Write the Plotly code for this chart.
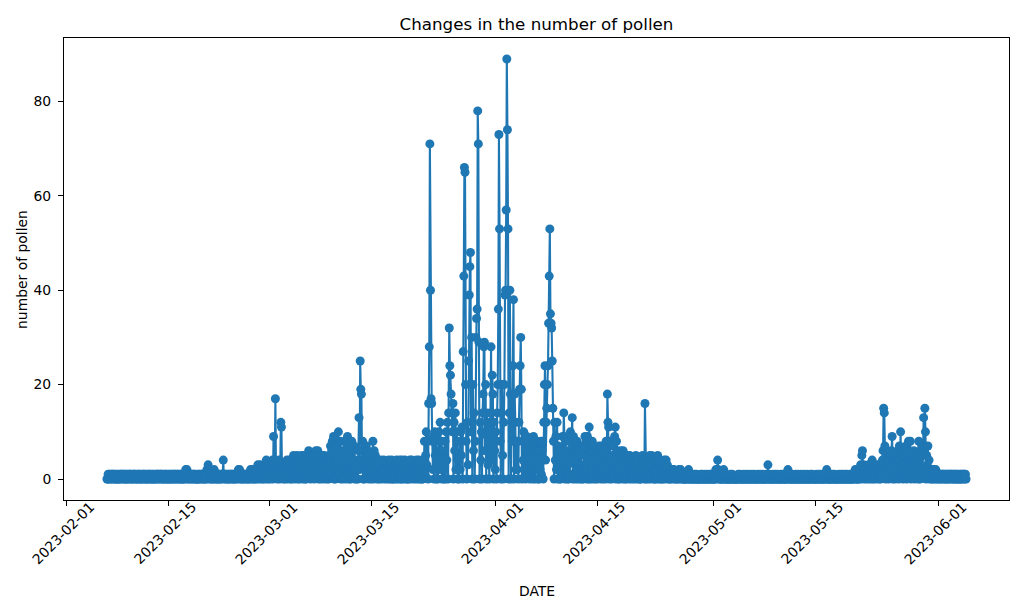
### Importing packages

import numpy as np
import pandas as pd
import plotly.graph_objs as go

### Pollen counts, one reading every 2 hours (00, 02, ... 22 h)
### one row per day

feb_start = "2023-02-06 14:00"
feb_counts = [
    0, 0, 1, 0, 1,                          # 02-06 (from 14h)
    0, 1, 0, 1, 0, 1, 1, 0, 1, 0, 0, 1,     # 02-07
    0, 1, 0, 0, 1, 0, 1, 1, 0, 1, 0, 1,     # 02-08
    1, 0, 0, 1, 0, 1, 0, 1, 0, 1, 1, 0,     # 02-09
    0, 1, 0, 1, 1, 0, 1, 0, 1, 0, 0, 1,     # 02-10
    1, 0, 1, 0, 0, 1, 0, 1, 1, 0, 1, 0,     # 02-11
    0, 1, 0, 1, 0, 1, 1, 0, 0, 1, 0, 1,     # 02-12
    0, 0, 1, 0, 1, 0, 1, 1, 0, 1, 0, 1,     # 02-13
    1, 0, 1, 0, 1, 0, 0, 1, 1, 0, 1, 0,     # 02-14
    0, 1, 0, 1, 0, 1, 0, 1, 0, 1, 0, 1,     # 02-15
    1, 0, 0, 1, 1, 0, 1, 0, 1, 0, 1, 0,     # 02-16
    0, 1, 0, 1, 0, 2, 1, 2, 0, 1, 0, 1,     # 02-17
    1, 0, 1, 0, 1, 0, 1, 1, 0, 1, 0, 0,     # 02-18
    0, 1, 0, 1, 0, 1, 0, 1, 1, 0, 1, 0,     # 02-19
    0, 1, 0, 1, 2, 0, 3, 1, 2, 0, 1, 0,     # 02-20
    1, 0, 1, 0, 2, 1, 0, 1, 0, 1, 0, 1,     # 02-21
    0, 1, 0, 1, 0, 1, 1, 4, 0, 1, 1, 0,     # 02-22
    1, 0, 1, 0, 1, 0, 1, 0, 1, 1, 0, 1,     # 02-23
    0, 1, 0, 1, 0, 1, 1, 0, 2, 1, 2, 0,     # 02-24
    1, 0, 1, 0, 1, 0, 1, 1, 0, 1, 0, 1,     # 02-25
    0, 1, 0, 1, 2, 0, 1, 2, 0, 1, 0, 1,     # 02-26
    0, 2, 1, 0, 3, 1, 2, 0, 3, 1, 2, 0,     # 02-27
    1, 0, 2, 3, 1, 0, 4, 2, 3, 0, 1, 3,     # 02-28
]

mar_start = "2023-03-01"
mar_counts = [
    0, 2, 3, 1, 4, 0, 9, 2, 3, 17, 1, 3,        # 03-01
    0, 3, 1, 4, 0, 2, 12, 11, 1, 3, 0, 2,       # 03-02
    1, 0, 3, 2, 4, 0, 3, 1, 4, 2, 0, 3,         # 03-03
    0, 3, 1, 5, 2, 0, 4, 3, 1, 5, 0, 2,         # 03-04
    2, 0, 4, 1, 5, 3, 0, 5, 2, 4, 0, 3,         # 03-05
    0, 3, 5, 1, 6, 2, 4, 0, 5, 3, 1, 4,         # 03-06
    2, 0, 5, 3, 6, 1, 4, 6, 0, 5, 2, 3,         # 03-07
    0, 4, 1, 5, 2, 0, 5, 3, 1, 4, 0, 3,         # 03-08
    2, 0, 5, 3, 7, 1, 6, 8, 2, 9, 0, 5,         # 03-09
    0, 4, 2, 7, 3, 10, 1, 6, 8, 0, 5, 2,        # 03-10
    3, 0, 6, 2, 8, 4, 0, 7, 9, 1, 5, 0,         # 03-11
    2, 0, 5, 8, 1, 6, 3, 7, 0, 4, 2, 0,         # 03-12
    3, 0, 6, 13, 2, 25, 19, 18, 4, 8, 0, 3,     # 03-13
    0, 5, 2, 7, 1, 6, 3, 0, 5, 2, 4, 0,         # 03-14
    1, 3, 8, 0, 6, 2, 5, 1, 4, 0, 3, 1,         # 03-15
    0, 3, 1, 4, 0, 2, 3, 1, 4, 0, 2, 1,         # 03-16
    2, 0, 3, 1, 4, 0, 3, 2, 0, 4, 1, 0,         # 03-17
    0, 3, 1, 3, 0, 4, 2, 0, 3, 1, 4, 0,         # 03-18
    1, 0, 4, 2, 0, 3, 1, 4, 0, 3, 2, 0,         # 03-19
    0, 3, 1, 4, 0, 2, 4, 1, 3, 0, 2, 1,         # 03-20
    2, 0, 4, 1, 3, 0, 4, 2, 0, 3, 1, 0,         # 03-21
    0, 4, 2, 8, 1, 5, 10, 3, 8, 0, 16, 28,      # 03-22
    71, 40, 17, 16, 8, 2, 9, 0, 10, 5, 8, 0,    # 03-23
    3, 0, 6, 10, 2, 12, 4, 8, 0, 6, 3, 0,       # 03-24
    2, 8, 0, 10, 4, 12, 0, 14, 32, 24, 22, 18,  # 03-25
    14, 10, 16, 0, 12, 6, 14, 2, 10, 8, 0, 4,   # 03-26
    0, 8, 2, 10, 5, 11, 0, 27, 43, 66, 65, 20,  # 03-27
    8, 0, 12, 3, 25, 39, 45, 48, 10, 30, 0, 20, # 03-28
    6, 14, 0, 8, 30, 34, 36, 78, 71, 29, 0, 12, # 03-29
    4, 10, 0, 14, 18, 28, 29, 6, 20, 0, 14, 9,  # 03-30
    3, 12, 0, 8, 14, 28, 4, 22, 18, 0, 12, 6,   # 03-31
]

apr_start = "2023-04-01"
apr_counts = [
    2, 10, 0, 14, 20, 36, 73, 53, 8, 0, 14, 20,    # 04-01
    5, 0, 12, 20, 39, 40, 57, 89, 74, 53, 0, 14,   # 04-02
    40, 18, 0, 14, 8, 24, 38, 0, 18, 12, 2, 8,     # 04-03
    2, 8, 0, 12, 19, 24, 30, 19, 0, 8, 4, 10,      # 04-04
    2, 8, 0, 6, 9, 1, 8, 4, 7, 0, 6, 3,            # 04-05
    1, 6, 0, 9, 3, 8, 0, 7, 8, 2, 6, 0,            # 04-06
    0, 6, 2, 8, 1, 6, 8, 0, 12, 20, 24, 4,         # 04-07
    12, 15, 20, 24, 33, 43, 53, 35, 33, 32, 25, 15,  # 04-08
    8, 0, 12, 4, 9, 2, 12, 0, 7, 5, 0, 3,          # 04-09
    0, 6, 1, 9, 3, 14, 9, 0, 8, 2, 6, 0,           # 04-10
    3, 0, 8, 1, 10, 5, 9, 13, 0, 9, 4, 1,          # 04-11
    0, 6, 2, 8, 0, 7, 3, 6, 0, 5, 2, 0,            # 04-12
    2, 0, 7, 3, 9, 1, 8, 0, 9, 5, 0, 11,           # 04-13
    4, 0, 6, 2, 8, 0, 7, 3, 6, 0, 4, 1,            # 04-14
    0, 5, 1, 7, 2, 6, 0, 7, 3, 5, 0, 2,            # 04-15
    1, 6, 0, 8, 3, 18, 12, 11, 0, 8, 4, 2,         # 04-16
    0, 5, 1, 7, 3, 9, 11, 0, 8, 2, 6, 0,           # 04-17
    2, 0, 5, 1, 6, 3, 0, 6, 2, 5, 0, 3,            # 04-18
    0, 4, 1, 5, 2, 0, 5, 3, 4, 0, 2, 1,            # 04-19
    1, 0, 4, 2, 5, 0, 4, 1, 3, 0, 2, 0,            # 04-20
    0, 3, 1, 5, 2, 4, 0, 16, 3, 0, 2, 1,           # 04-21
    0, 4, 1, 5, 0, 3, 5, 1, 4, 0, 2, 0,            # 04-22
    2, 0, 4, 1, 5, 0, 3, 4, 0, 2, 1, 0,            # 04-23
    0, 3, 1, 4, 0, 2, 4, 1, 3, 0, 1, 0,            # 04-24
    1, 0, 2, 1, 0, 2, 1, 2, 0, 1, 0, 1,            # 04-25
    0, 1, 0, 2, 1, 0, 2, 1, 0, 1, 0, 0,            # 04-26
    0, 0, 1, 0, 0, 1, 0, 2, 0, 0, 1, 0,            # 04-27
    0, 1, 0, 0, 0, 1, 0, 0, 1, 0, 0, 0,            # 04-28
    0, 0, 0, 1, 0, 0, 1, 0, 0, 0, 1, 0,            # 04-29
    0, 0, 1, 0, 0, 0, 1, 0, 1, 0, 0, 0,            # 04-30
]

may_start = "2023-05-01"
may_counts = [
    0, 0, 1, 0, 2, 0, 1, 4, 2, 0, 1, 0,       # 05-01
    0, 0, 1, 0, 0, 2, 0, 1, 0, 0, 0, 0,       # 05-02
    0, 0, 0, 0, 1, 0, 0, 1, 0, 0, 0, 0,       # 05-03
    0, 0, 0, 0, 0, 1, 0, 0, 1, 0, 0, 0,       # 05-04
    0, 0, 1, 0, 0, 0, 1, 0, 0, 0, 1, 0,       # 05-05
    0, 0, 0, 1, 0, 0, 0, 1, 0, 0, 0, 0,       # 05-06
    0, 1, 0, 0, 0, 1, 0, 0, 0, 1, 0, 0,       # 05-07
    0, 0, 0, 1, 0, 0, 3, 0, 1, 0, 0, 0,       # 05-08
    0, 0, 1, 0, 0, 0, 1, 0, 0, 0, 1, 0,       # 05-09
    0, 0, 0, 0, 1, 0, 0, 1, 0, 0, 0, 0,       # 05-10
    0, 0, 1, 2, 0, 0, 1, 0, 0, 0, 1, 0,       # 05-11
    0, 0, 0, 0, 1, 0, 0, 0, 1, 0, 0, 0,       # 05-12
    0, 1, 0, 0, 0, 0, 1, 0, 0, 0, 0, 1,       # 05-13
    0, 0, 0, 0, 1, 0, 0, 1, 0, 0, 0, 0,       # 05-14
    0, 0, 1, 0, 0, 0, 1, 0, 0, 1, 0, 0,       # 05-15
    0, 0, 0, 1, 0, 0, 1, 2, 0, 0, 0, 0,       # 05-16
    0, 1, 0, 0, 0, 1, 0, 0, 1, 0, 0, 0,       # 05-17
    0, 0, 0, 1, 0, 0, 0, 1, 0, 0, 1, 0,       # 05-18
    0, 0, 1, 0, 0, 1, 0, 0, 0, 1, 0, 0,       # 05-19
    0, 0, 0, 1, 0, 1, 2, 0, 0, 1, 0, 0,       # 05-20
    0, 2, 1, 3, 0, 5, 6, 1, 3, 0, 2, 1,       # 05-21
    1, 0, 2, 1, 3, 0, 2, 3, 1, 0, 4, 2,       # 05-22
    0, 2, 1, 3, 0, 2, 3, 1, 2, 0, 1, 2,       # 05-23
    0, 3, 1, 4, 6, 15, 14, 7, 0, 5, 3, 1,     # 05-24
    2, 0, 4, 1, 5, 3, 6, 9, 0, 5, 2, 4,       # 05-25
    0, 3, 1, 5, 2, 6, 0, 7, 4, 10, 1, 3,      # 05-26
    2, 0, 5, 1, 6, 3, 7, 0, 6, 2, 8, 4,       # 05-27
    2, 8, 0, 4, 1, 5, 3, 6, 0, 4, 2, 5,       # 05-28
    1, 3, 0, 8, 5, 0, 6, 2, 7, 1, 5, 13,      # 05-29
    7, 15, 10, 0, 5, 3, 7, 1, 4, 0, 2, 1,     # 05-30
    0, 2, 0, 1, 2, 0, 1, 2, 0, 1, 0, 1,       # 05-31
]

jun_start = "2023-06-01"
jun_counts = [
    1, 0, 1, 0, 1, 0, 1, 1, 0, 1, 0, 1,       # 06-01
    0, 1, 0, 1, 0, 1, 0, 1, 1, 0, 1, 0,       # 06-02
    1, 0, 1, 0, 1, 0, 1, 0, 1, 0, 0, 1,       # 06-03
    0, 1, 0, 1, 0, 1, 1, 0, 1, 0,             # 06-04 (to 18h)
]

tick_dates = ["2023-02-01", "2023-02-15", "2023-03-01", "2023-03-15",
              "2023-04-01", "2023-04-15", "2023-05-01", "2023-05-15",
              "2023-06-01"]
y_ticks = [0, 20, 40, 60, 80]

### Preprocessing

parts = [(feb_start, feb_counts), (mar_start, mar_counts),
         (apr_start, apr_counts), (may_start, may_counts),
         (jun_start, jun_counts)]
times = []
counts = []
for start, vals in parts:
    times.extend(pd.date_range(start=start, periods=len(vals), freq="2h"))
    counts.extend(vals)
times = pd.DatetimeIndex(times)
counts = np.array(counts)

# matplotlib-like 5% padding
span = times.max() - times.min()
x_range = [times.min() - 0.05 * span, times.max() + 0.05 * span]
y_max = counts.max()
y_range = [-0.05 * y_max, 1.05 * y_max]

### Convenience variables

font_family = "DejaVu Sans"
tick_font = dict(family=font_family, size=13.9, color='black')
blue = '#1f77b4'

### trace
trace = go.Scatter(x=times, y=counts, mode='lines+markers',
                   line=dict(color=blue, width=2.1),
                   marker=dict(color=blue, size=9),
                   showlegend=False)

### annotations (rotated date labels + axis titles)
annotations = []
for d in tick_dates:
    annotations.append(dict(text=d, x=d, xref='x', xshift=-3,
                            y=-0.072, yref='paper',
                            textangle=-45, showarrow=False,
                            xanchor='center', yanchor='middle',
                            font=tick_font))
annotations.append(dict(text="DATE", x=0.5, xref='paper', y=-0.198,
                        yref='paper', showarrow=False, xanchor='center',
                        yanchor='middle', font=tick_font))
annotations.append(dict(text="number of pollen", x=-0.0445, xref='paper',
                        y=0.5, yref='paper', textangle=-90, showarrow=False,
                        xanchor='center', yanchor='middle', font=tick_font))

### axis parameters
xaxis = dict(type='date', range=x_range, tickvals=tick_dates,
             showticklabels=False, ticks='outside', ticklen=5,
             tickcolor='black', showgrid=False, zeroline=False,
             showline=True, mirror=True, linecolor='black', linewidth=1)

yaxis = dict(range=y_range, tickvals=y_ticks, ticks='outside', ticklen=5,
             tickcolor='black', tickfont=tick_font, showgrid=False,
             zeroline=False, showline=True, mirror=True,
             linecolor='black', linewidth=1, ticklabelstandoff=4)

### layout
layout = go.Layout(width=1024, height=615,
                   margin=dict(l=64, r=15, t=38, b=115),
                   paper_bgcolor='white', plot_bgcolor='white',
                   title=dict(text="Changes in the number of pollen",
                              x=0.5, xref='paper', xanchor='center',
                              y=1 - 24 / 615, yref='container',
                              yanchor='middle',
                              font=dict(family=font_family, size=16.7,
                                        color='black')),
                   xaxis=xaxis, yaxis=yaxis,
                   annotations=annotations)

fig = go.Figure(data=[trace], layout=layout)
# page body has a default 8px margin; drop it so the figure sits at 0,0
fig.write_html("out.html", config={'displayModeBar': False},
               post_script="document.body.style.margin='0px';")
